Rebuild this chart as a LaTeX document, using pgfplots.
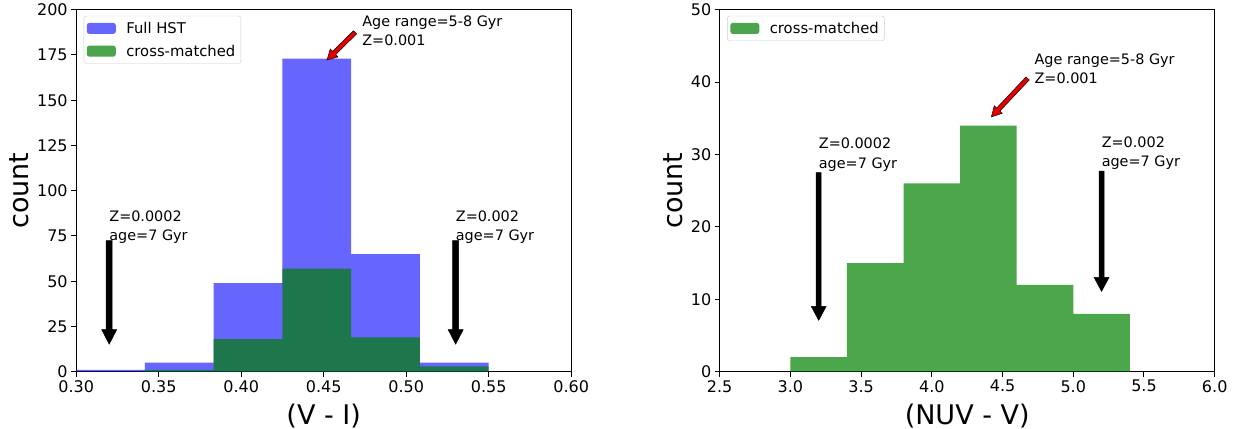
\documentclass[border=0pt]{standalone}
\usepackage{fontspec}
\setmainfont{DejaVu Sans}
\usepackage{pgfplots}
\pgfplotsset{compat=1.18}
\usetikzlibrary{calc}

\definecolor{mplblue}{RGB}{0,0,255}
\definecolor{mplgreen}{RGB}{0,128,0}
\definecolor{mplred}{RGB}{230,0,0}

\newcommand{\ann}{\fontsize{14.4bp}{17bp}\selectfont}
% tail, head, half body width, half head width, head length, fill colour
\newcommand{\fancyarrow}[6]{%
  \coordinate (faB) at ($(#2)!#5!(#1)$);
  \filldraw[fill=#6, draw=black, line width=0.5bp, line join=miter]
    ($(#1)!#3!90:(#2)$) -- ($(faB)!#3!-90:(#1)$) -- ($(faB)!#4!-90:(#1)$) -- (#2)
    -- ($(faB)!#4!90:(#1)$) -- ($(faB)!#3!90:(#1)$) -- ($(#1)!#3!-90:(#2)$) -- cycle;}

\pgfplotsset{
  mystyle/.style={
    scale only axis, width=495bp, height=362bp,
    tick align=outside, xtick pos=bottom, ytick pos=left,
    major tick length=5bp,
    axis line style={black, line width=1bp},
    tick style={black, line width=1bp},
    /pgf/number format/assume math mode=true,
    tick label style={font=\fontsize{16bp}{19bp}\selectfont},
    xlabel style={font=\fontsize{27bp}{32bp}\selectfont, at={(axis description cs:0.5,-0.1215)}, anchor=center},
    legend cell align=left,
    legend style={anchor=north west, draw=black!20, rounded corners=2.5bp, fill=white,
      font=\fontsize{14.8bp}{17bp}\selectfont, inner xsep=3bp, inner ysep=3.5bp, row sep=5bp,
      nodes={inner sep=2.5bp},
      /tikz/every odd column/.append style={column sep=8bp}},
    legend image code/.code={\path[##1] (0bp,-5.5bp) rectangle (29bp,5.5bp);},
  }
}

\begin{document}
\begin{tikzpicture}
\useasboundingbox (-76.2bp,-57.3bp) rectangle (1163.8bp,371.7bp);

% ---------------- left panel ----------------
\begin{axis}[mystyle, at={(0bp,0bp)}, anchor=south west,
  xmin=0.3, xmax=0.6, ymin=0, ymax=200,
  xtick={0.30,0.35,0.40,0.45,0.50,0.55,0.60},
  xticklabel style={/pgf/number format/.cd, fixed, fixed zerofill, precision=2},
  ytick={0,25,50,75,100,125,150,175,200},
  xlabel={(V - I)}, ylabel={count},
  ylabel style={font=\fontsize{27bp}{32bp}\selectfont, at={(axis description cs:-0.1155,0.5)}, anchor=center},
  legend style={at={(axis description cs:0.015,0.983)}},
]
\addplot[const plot, fill=mplblue, fill opacity=0.6, draw=none]
  coordinates {(0.30,1) (0.341667,5) (0.383333,49) (0.425,173) (0.466667,65) (0.508333,5) (0.55,5)} \closedcycle;
\addlegendentry{Full HST}
\addplot[const plot, fill=mplgreen, fill opacity=0.7, draw=none]
  coordinates {(0.30,0) (0.341667,1) (0.383333,18) (0.425,57) (0.466667,19) (0.508333,3) (0.55,3)} \closedcycle;
\addlegendentry{cross-matched}

\coordinate (la1) at (axis cs:0.32,72.4);
\coordinate (la2) at (axis cs:0.32,15.2);
\coordinate (lb1) at (axis cs:0.53,72.4);
\coordinate (lb2) at (axis cs:0.53,15.2);
\coordinate (lr1) at (axis cs:0.469,187.5);
\coordinate (lr2) at (axis cs:0.452,172.2);

\node[anchor=base west, font=\ann, inner sep=0pt] at (axis cs:0.32,72.3) {age=7 Gyr};
\node[anchor=base west, font=\ann, inner sep=0pt] at ([yshift=19.5bp]axis cs:0.32,72.3) {Z=0.0002};
\node[anchor=base west, font=\ann, inner sep=0pt] at (axis cs:0.53,72.3) {age=7 Gyr};
\node[anchor=base west, font=\ann, inner sep=0pt] at ([yshift=19.5bp]axis cs:0.53,72.3) {Z=0.002};
\node[anchor=base west, font=\ann, inner sep=0pt] at (axis cs:0.4733,180.2) {Z=0.001};
\node[anchor=base west, font=\ann, inner sep=0pt] at ([yshift=19.5bp]axis cs:0.4733,180.2) {Age range=5-8 Gyr};
\end{axis}

\fancyarrow{la1}{la2}{3bp}{7.5bp}{14.5bp}{black}
\fancyarrow{lb1}{lb2}{3bp}{7.5bp}{14.5bp}{black}
\fancyarrow{lr1}{lr2}{2.2bp}{5.5bp}{10bp}{mplred}

% ---------------- right panel ----------------
\begin{axis}[mystyle, at={(643.5bp,0bp)}, anchor=south west,
  xmin=2.5, xmax=6.0, ymin=0, ymax=50,
  xtick={2.5,3.0,3.5,4.0,4.5,5.0,5.5,6.0},
  xticklabel style={/pgf/number format/.cd, fixed, fixed zerofill, precision=1},
  ytick={0,10,20,30,40,50},
  xlabel={(NUV - V)}, ylabel={count},
  ylabel style={font=\fontsize{27bp}{32bp}\selectfont, at={(axis description cs:-0.0947,0.5)}, anchor=center},
  legend style={at={(axis description cs:0.015,0.983)}},
]
\addplot[const plot, fill=mplgreen, fill opacity=0.7, draw=none]
  coordinates {(3.0,2) (3.4,15) (3.8,26) (4.2,34) (4.6,12) (5.0,8) (5.4,8)} \closedcycle;
\addlegendentry{cross-matched}

\coordinate (ra1) at (axis cs:3.2,27.5);
\coordinate (ra2) at (axis cs:3.2,7.1);
\coordinate (rb1) at (axis cs:5.2,27.7);
\coordinate (rb2) at (axis cs:5.2,11.1);
\coordinate (rr1) at (axis cs:4.677,40.5);
\coordinate (rr2) at (axis cs:4.421,35.2);

\node[anchor=base west, font=\ann, inner sep=0pt] at (axis cs:3.2,28.1) {age=7 Gyr};
\node[anchor=base west, font=\ann, inner sep=0pt] at ([yshift=19.5bp]axis cs:3.2,28.1) {Z=0.0002};
\node[anchor=base west, font=\ann, inner sep=0pt] at (axis cs:5.2,28.3) {age=7 Gyr};
\node[anchor=base west, font=\ann, inner sep=0pt] at ([yshift=19.5bp]axis cs:5.2,28.3) {Z=0.002};
\node[anchor=base west, font=\ann, inner sep=0pt] at (axis cs:4.725,39.8) {Z=0.001};
\node[anchor=base west, font=\ann, inner sep=0pt] at ([yshift=19.5bp]axis cs:4.725,39.8) {Age range=5-8 Gyr};
\end{axis}

\fancyarrow{ra1}{ra2}{2.5bp}{7.5bp}{14bp}{black}
\fancyarrow{rb1}{rb2}{2.5bp}{7.5bp}{14bp}{black}
\fancyarrow{rr1}{rr2}{2.2bp}{5.5bp}{10bp}{mplred}
\end{tikzpicture}
\end{document}
